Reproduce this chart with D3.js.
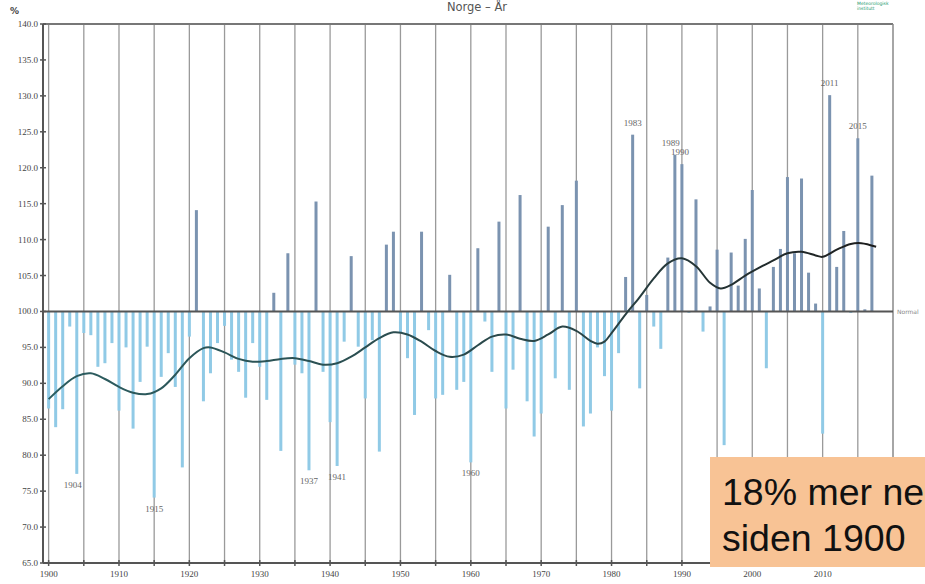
<!DOCTYPE html>
<html>
<head>
<meta charset="utf-8">
<script src="https://cdn.jsdelivr.net/npm/d3@7"></script>
<style>
  html, body { margin: 0; padding: 0; background: #fff; }
  svg { display: block; }
</style>
</head>
<body>
<svg id="chart" width="925" height="584"></svg>
<script>
// Annual precipitation for Norway, percent of the 1961–1990 normal
const years = d3.range(1900, 2018);
const precip = [
  86.5, 83.9, 86.4, 97.9, 77.4, 97.0, 96.7, 92.3, 92.8, 95.6,   // 1900-1909
  86.2, 95.0, 83.7, 90.2, 95.1, 74.1, 90.9, 94.2, 89.5, 78.3,   // 1910-1919
  96.5, 114.1, 87.5, 91.4, 95.6, 98.0, 93.3, 91.6, 88.0, 95.6,  // 1920-1929
  92.3, 87.7, 102.6, 80.6, 108.1, 92.6, 91.4, 77.9, 115.3, 91.6, // 1930-1939
  84.6, 78.5, 95.8, 107.7, 95.1, 87.9, 96.0, 80.5, 109.3, 111.1, // 1940-1949
  97.0, 93.5, 85.6, 111.1, 97.4, 87.9, 88.4, 105.1, 89.1, 90.2,  // 1950-1959
  79.0, 108.8, 98.6, 91.6, 112.5, 86.5, 91.9, 116.2, 87.5, 82.6, // 1960-1969
  85.8, 111.8, 90.7, 114.8, 89.1, 118.2, 84.0, 85.8, 95.0, 91.0, // 1970-1979
  86.2, 94.2, 104.8, 124.6, 89.3, 102.3, 97.9, 94.8, 107.5, 121.8, // 1980-1989
  120.5, 99.8, 115.6, 97.2, 100.7, 108.6, 81.4, 108.2, 103.6, 110.1, // 1990-1999
  116.9, 103.2, 92.1, 106.2, 108.7, 118.7, 108.1, 118.5, 105.4, 101.1, // 2000-2009
  83.0, 130.1, 106.2, 111.2, 99.8, 124.1, 100.3, 118.9            // 2010-2017
];

// Smoothed trend (low-pass filtered series)
const trendYears = [1900, 1902, 1904, 1906, 1908, 1910, 1912, 1914, 1916, 1918, 1920, 1922, 1923,
  1925, 1927, 1929, 1931, 1933, 1935, 1937, 1939, 1941, 1943, 1945, 1947, 1949, 1951, 1953,
  1955, 1957, 1959, 1961, 1963, 1965, 1967, 1969, 1971, 1973, 1975, 1977, 1978, 1979, 1980,
  1982, 1984, 1986, 1988, 1990, 1992, 1994, 1995.5, 1997, 1999, 2001, 2003, 2005, 2007,
  2009, 2010, 2012, 2014, 2015.5, 2017.6];
const trendValues = [87.8, 89.6, 91.0, 91.4, 90.6, 89.5, 88.7, 88.5, 89.3, 91.2, 93.5, 94.9, 95.0,
  94.3, 93.4, 93.0, 93.1, 93.4, 93.5, 93.1, 92.6, 92.8, 93.7, 95.0, 96.3, 97.1, 96.8, 95.8,
  94.5, 93.7, 94.0, 95.3, 96.5, 96.8, 96.2, 95.9, 96.8, 97.9, 97.3, 95.9, 95.5, 95.8, 97.0,
  99.6, 102.0, 104.6, 106.7, 107.4, 106.3, 104.0, 103.2, 103.7, 105.0, 106.1, 107.1, 108.1, 108.3,
  107.8, 107.6, 108.6, 109.4, 109.5, 109.0];

const labelledYears = [1904, 1915, 1937, 1941, 1960, 1983, 1989, 1990, 2011, 2015];
const yTicks = d3.range(65, 141, 5);
const xGridYears = d3.range(1900, 2016, 5);
const xLabelYears = d3.range(1900, 2011, 10);

const normal = 100;
const svg = d3.select("#chart");

const plotLeft = 43, plotRight = 893, plotTop = 24, plotBottom = 563;
const x = d3.scaleLinear().domain([1899.2, 2020]).range([plotLeft, plotRight]);
const y = d3.scaleLinear().domain([65, 140]).range([plotBottom, plotTop]);

const labelFont = "'Liberation Serif', 'DejaVu Serif', serif";

// Title
svg.append("text")
  .attr("x", 477).attr("y", 10.5)
  .attr("text-anchor", "middle")
  .attr("font-family", "'DejaVu Sans', sans-serif")
  .attr("font-size", 11.5)
  .attr("fill", "#555")
  .text("Norge – År");

// Institute mark, top right
svg.append("text").attr("x", 857).attr("y", 4.5)
  .attr("font-family", "'DejaVu Sans', sans-serif").attr("font-size", 4.5)
  .attr("fill", "#1b9a6c").text("Meteorologisk");
svg.append("text").attr("x", 857).attr("y", 9.5)
  .attr("font-family", "'DejaVu Sans', sans-serif").attr("font-size", 4.5)
  .attr("fill", "#1b9a6c").text("institutt");

// Vertical grid lines every five years
svg.append("g").selectAll("line").data(xGridYears).join("line")
  .attr("x1", d => x(d)).attr("x2", d => x(d))
  .attr("y1", plotTop).attr("y2", plotBottom)
  .attr("stroke", "#9a9a9a").attr("stroke-width", 1.3);

// Frame: top and right edges
svg.append("line").attr("x1", plotLeft).attr("x2", plotRight).attr("y1", plotTop).attr("y2", plotTop)
  .attr("stroke", "#777").attr("stroke-width", 2);
svg.append("line").attr("x1", plotRight).attr("x2", plotRight).attr("y1", plotTop).attr("y2", plotBottom)
  .attr("stroke", "#888").attr("stroke-width", 1.5);

// Bars relative to the normal
svg.append("g").selectAll("rect").data(years).join("rect")
  .attr("x", d => x(d) - 1.5)
  .attr("width", 3)
  .attr("y", (d, i) => y(Math.max(precip[i], normal)))
  .attr("height", (d, i) => Math.abs(y(precip[i]) - y(normal)))
  .attr("fill", (d, i) => precip[i] >= normal ? "#7b93b0" : "#90cae6");

// Normal line
svg.append("line")
  .attr("x1", plotLeft).attr("x2", plotRight)
  .attr("y1", y(normal)).attr("y2", y(normal))
  .attr("stroke", "#555").attr("stroke-width", 2);
svg.append("text")
  .attr("x", plotRight + 4).attr("y", y(normal) + 2.5)
  .attr("font-family", "'DejaVu Sans', sans-serif").attr("font-size", 6)
  .attr("fill", "#888").text("Normal");

// Smoothed trend line
const grad = svg.append("defs").append("linearGradient")
  .attr("id", "trendGrad").attr("gradientUnits", "userSpaceOnUse")
  .attr("x1", x(1900)).attr("x2", x(2018)).attr("y1", 0).attr("y2", 0);
grad.append("stop").attr("offset", "0%").attr("stop-color", "#2c5d60");
grad.append("stop").attr("offset", "65%").attr("stop-color", "#2a4446");
grad.append("stop").attr("offset", "100%").attr("stop-color", "#1c1c1c");

const trend = trendYears.map((t, i) => [t, trendValues[i]]);
svg.append("path")
  .datum(trend)
  .attr("fill", "none")
  .attr("stroke", "url(#trendGrad)")
  .attr("stroke-width", 2)
  .attr("d", d3.line().x(d => x(d[0])).y(d => y(d[1])).curve(d3.curveCatmullRom.alpha(0.5)));

// Year labels on the extreme bars
svg.append("g").selectAll("text").data(labelledYears).join("text")
  .attr("x", d => x(d) + (d === 1904 ? -4 : d === 1989 ? -4 : d === 1990 ? -2 : 0))
  .attr("y", d => {
    const v = precip[years.indexOf(d)];
    return v >= normal ? y(v) - 9 : y(v) + 14;
  })
  .attr("text-anchor", "middle")
  .attr("font-family", labelFont).attr("font-size", 9)
  .attr("fill", "#666")
  .text(d => d);

// Y axis
const yAxis = svg.append("g");
yAxis.append("line").attr("x1", plotLeft).attr("x2", plotLeft).attr("y1", plotTop).attr("y2", plotBottom)
  .attr("stroke", "#555").attr("stroke-width", 2);
yAxis.selectAll("line.tick").data(yTicks).join("line").attr("class", "tick")
  .attr("x1", plotLeft - 3).attr("x2", plotLeft + 3)
  .attr("y1", d => y(d)).attr("y2", d => y(d))
  .attr("stroke", "#555").attr("stroke-width", 1.5);
yAxis.selectAll("text").data(yTicks).join("text")
  .attr("x", plotLeft - 5).attr("y", d => y(d) + 3)
  .attr("text-anchor", "end")
  .attr("font-family", labelFont).attr("font-size", 9)
  .attr("fill", "#444")
  .text(d => d.toFixed(1));
svg.append("text").attr("x", 10).attr("y", 14)
  .attr("font-family", "'DejaVu Sans', sans-serif").attr("font-size", 9).attr("font-weight", "bold")
  .attr("fill", "#444").text("%");

// X axis
const xAxis = svg.append("g");
xAxis.append("line").attr("x1", plotLeft).attr("x2", plotRight).attr("y1", plotBottom).attr("y2", plotBottom)
  .attr("stroke", "#555").attr("stroke-width", 2);
xAxis.selectAll("line.tick").data(xGridYears).join("line").attr("class", "tick")
  .attr("x1", d => x(d)).attr("x2", d => x(d))
  .attr("y1", plotBottom - 3).attr("y2", plotBottom + 3)
  .attr("stroke", "#555").attr("stroke-width", 1.5);
xAxis.selectAll("text").data(xLabelYears).join("text")
  .attr("x", d => x(d)).attr("y", plotBottom + 14)
  .attr("text-anchor", "middle")
  .attr("font-family", labelFont).attr("font-size", 9)
  .attr("fill", "#444")
  .text(d => d);

// Callout box (runs off the right edge of the page)
const box = svg.append("g");
box.append("rect").attr("x", 710).attr("y", 457).attr("width", 230).attr("height", 110)
  .attr("fill", "#f8c395");
box.append("text").attr("x", 722).attr("y", 505)
  .attr("font-family", "'Liberation Sans', Arial, sans-serif").attr("font-size", 37.5)
  .attr("fill", "#111").text("18% mer nedbør");
box.append("text").attr("x", 722).attr("y", 551)
  .attr("font-family", "'Liberation Sans', Arial, sans-serif").attr("font-size", 37.5)
  .attr("fill", "#111").text("siden 1900");
</script>
</body>
</html>
